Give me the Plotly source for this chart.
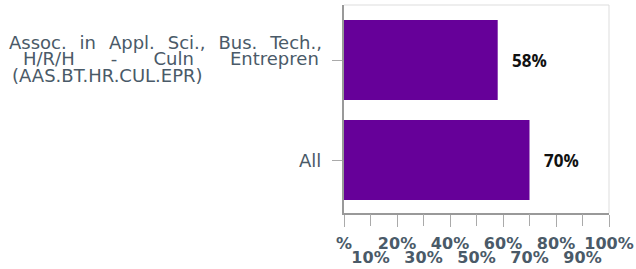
import plotly.graph_objects as go

categories = ["Assoc. in Appl. Sci., Bus. Tech., H/R/H - Culn Entrepren (AAS.BT.HR.CUL.EPR)", "All"]
values = [58, 70]
even_ticks = [0, 20, 40, 60, 80, 100]
even_text = ["%", "20%", "40%", "60%", "80%", "100%"]
odd_ticks = [10, 30, 50, 70, 90]
odd_text = ["10%", "30%", "50%", "70%", "90%"]

NB = "\u00a0"
label_font = dict(family="DejaVu Sans, Verdana", size=18, color="#4a5a68")
tick_font = dict(family="DejaVu Sans, Verdana", size=16, color="#4a5a68", weight="bold")

fig = go.Figure()
fig.add_trace(go.Bar(
    y=categories, x=values, orientation="h", width=0.8,
    marker=dict(color="#660099", line=dict(width=0)),
    hoverinfo="skip",
))
# invisible trace to carry the second (staggered) tick row
fig.add_trace(go.Scatter(x=[0, 100], y=categories, xaxis="x2", mode="markers",
                         marker=dict(opacity=0), hoverinfo="skip"))

for c, v in zip(categories, values):
    fig.add_annotation(x=v, y=c, xref="x", yref="y", text=f"<b>{v}%</b>",
                       showarrow=False, xanchor="left", xshift=12,
                       font=dict(family="Open Sans, DejaVu Sans", size=17, color="#111111"))

# long category label, laid out as justified lines
words = categories[0].split(" ")
line1 = (NB + "\u2009\u2009").join(words[:6])
line2 = (NB * 6 + "\u200a").join(words[6:10])
line3 = words[10]
fig.add_annotation(x=0, y=categories[0], xref="paper", yref="y", text=line1, showarrow=False,
                   xanchor="right", xshift=-20, yshift=18, font=label_font)
fig.add_annotation(x=0, y=categories[0], xref="paper", yref="y", text=line2, showarrow=False,
                   xanchor="right", xshift=-23, yshift=2, font=label_font)
fig.add_annotation(x=0, y=categories[0], xref="paper", yref="y", text=line3, showarrow=False,
                   xanchor="left", xshift=-334, yshift=-15, font=label_font)
fig.add_annotation(x=0, y=categories[1], xref="paper", yref="y", text=categories[1], showarrow=False,
                   xanchor="right", xshift=-21, font=label_font)

fig.update_layout(
    width=636, height=269,
    margin=dict(l=344, r=27, t=5, b=56),
    plot_bgcolor="white", paper_bgcolor="white",
    showlegend=False,
    xaxis=dict(range=[0, 100], tickvals=even_ticks, ticktext=even_text, tickangle=0,
               ticks="outside", ticklen=12, tickcolor="#aaaaaa", tickwidth=1,
               ticklabelstandoff=3,
               showgrid=False, zeroline=False, automargin=False,
               showline=True, linecolor="#999999", linewidth=2,
               tickfont=tick_font, fixedrange=True),
    xaxis2=dict(range=[0, 100], overlaying="x", anchor="y", side="bottom",
                tickvals=odd_ticks, ticktext=odd_text, tickangle=0,
                ticks="outside", ticklen=12, tickcolor="#aaaaaa", tickwidth=1,
                ticklabelstandoff=18,
                showgrid=False, zeroline=False, automargin=False, showline=False,
                tickfont=tick_font, fixedrange=True),
    yaxis=dict(range=[1.53, -0.55], showticklabels=False, automargin=False,
               ticks="outside", ticklen=10, tickcolor="#aaaaaa",
               showgrid=False, zeroline=False,
               showline=True, linecolor="#999999", linewidth=2, fixedrange=True),
    shapes=[
        dict(type="line", xref="paper", yref="paper", x0=0, x1=1, y0=1, y1=1,
             line=dict(color="#dddddd", width=1)),
        dict(type="line", xref="paper", yref="paper", x0=1, x1=1, y0=0, y1=1,
             line=dict(color="#dddddd", width=1)),
    ],
)

fig.write_html("out.html", config={"displayModeBar": False},
               post_script="document.body.style.margin='0';")
